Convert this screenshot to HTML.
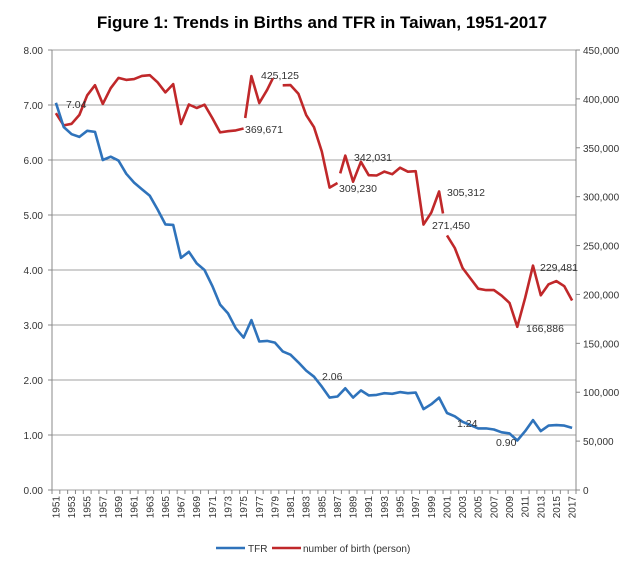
<!DOCTYPE html>
<html><head><meta charset="utf-8"><style>
body{margin:0;background:#fff;}
svg{display:block;font-family:"Liberation Sans",sans-serif;}
</style></head><body>
<svg id="c" width="640" height="565" viewBox="0 0 640 565" xmlns="http://www.w3.org/2000/svg"></svg>
<script>
const s=document.getElementById('c');let h='';
h+='<text x="322" y="28" text-anchor="middle" font-size="17" font-weight="bold" fill="#000">Figure 1: Trends in Births and TFR in Taiwan, 1951-2017</text>';
const L=52,R=576,T=50,B=490;
for(let i=0;i<=8;i++){const y=B-i*55;
 h+=`<line x1="${L}" x2="${R}" y1="${y}" y2="${y}" stroke="#a0a0a0" stroke-width="1"/>`;
 h+=`<text x="43" y="${y+4}" text-anchor="end" font-size="10" fill="#333">${i.toFixed(2)}</text>`;
 h+=`<line x1="${L-4}" x2="${L}" y1="${y}" y2="${y}" stroke="#888"/>`;}
for(let i=0;i<=9;i++){const y=B-i*440/9;const v=i*50000;
 h+=`<text x="583" y="${y+4}" font-size="10" fill="#333">${v==0?'0':v.toLocaleString('en-US')}</text>`;
 h+=`<line x1="${R}" x2="${R+4}" y1="${y}" y2="${y}" stroke="#888"/>`;}
h+=`<line x1="${L}" x2="${L}" y1="${T}" y2="${B}" stroke="#888"/><line x1="${R}" x2="${R}" y1="${T}" y2="${B}" stroke="#888"/>`;
const w=(R-L)/67,X=i=>L+w*(i+0.5);
for(let i=0;i<=67;i++){const x=L+w*i;h+=`<line x1="${x}" x2="${x}" y1="${B}" y2="${B+4}" stroke="#888"/>`;}
for(let i=0;i<67;i+=2){const x=X(i)+3.5;h+=`<text transform="translate(${x},${B+6}) rotate(-90)" text-anchor="end" font-size="10" fill="#333">${1951+i}</text>`;}
const tfr=[7.04,6.60,6.47,6.42,6.53,6.51,6.00,6.06,5.99,5.75,5.59,5.47,5.35,5.10,4.83,4.82,4.22,4.33,4.12,4.00,3.71,3.37,3.21,2.94,2.77,3.09,2.70,2.71,2.68,2.52,2.46,2.32,2.17,2.06,1.88,1.68,1.70,1.85,1.68,1.81,1.72,1.73,1.76,1.75,1.78,1.76,1.77,1.47,1.56,1.68,1.40,1.34,1.24,1.18,1.12,1.12,1.10,1.05,1.03,0.90,1.07,1.27,1.07,1.17,1.18,1.17,1.13];
const bir=[385383,372905,374536,383574,403683,414036,394870,410885,421458,419442,420254,423469,424250,416926,406604,415108,374282,394260,390728,394015,380424,365749,366942,367823,369671,423356,395796,409203,425125,413881,414069,405263,383439,371008,346208,309230,314024,342031,315299,335618,321932,321632,325613,322938,329581,325545,326002,271450,283661,305312,260354,247530,227070,216419,205854,204459,204414,198733,191310,166886,196627,229481,199113,210383,213598,208440,193844];
const p1=tfr.map((v,i)=>`${X(i).toFixed(1)},${(B-v*55).toFixed(1)}`).join(' ');
const bp=bir.map((v,i)=>[X(i),B-v/450000*440]);
const hide={24:[0,0.2],27:[0.75,1],28:[0,1],36:[0,0.35],49:[0.5,1]};
let d='';let pen=false;
for(let i=0;i<bp.length;i++){
 const hd=hide[i];
 if(!pen){d+=`M${bp[i][0].toFixed(1)},${bp[i][1].toFixed(1)}`;pen=true;}
 else d+=`L${bp[i][0].toFixed(1)},${bp[i][1].toFixed(1)}`;
 if(i==bp.length-1)break;
 if(hd){const a=bp[i],b=bp[i+1];const P=f=>[a[0]+(b[0]-a[0])*f,a[1]+(b[1]-a[1])*f];
  if(hd[0]>0){const q=P(hd[0]);d+=`L${q[0].toFixed(1)},${q[1].toFixed(1)}`;}
  if(hd[1]<1){const q=P(hd[1]);d+=`M${q[0].toFixed(1)},${q[1].toFixed(1)}`;}
  else pen=false;
 }
}
h+=`<path d="${d}" fill="none" stroke="#c0282a" stroke-width="2.6" stroke-linejoin="round"/>`;
h+=`<polyline points="${p1}" fill="none" stroke="#2f73bb" stroke-width="2.6" stroke-linejoin="round"/>`;
const labs=[["7.04",66,108],["425,125",261,79],["369,671",245,133],["342,031",354,161],["309,230",339,192],["305,312",447,196],["271,450",432,229],["229,481",540,271],["166,886",526,332],["2.06",322,380],["1.24",457,427],["0.90",496,446]];
for(const [t,x,y] of labs){h+=`<text x="${x}" y="${y}" font-size="10.5" fill="#333">${t}</text>`;}
h+=`<line x1="216" x2="245" y1="548" y2="548" stroke="#2f73bb" stroke-width="2.6"/><text x="248" y="552" font-size="10" fill="#333">TFR</text>`;
h+=`<line x1="272" x2="301" y1="548" y2="548" stroke="#c0282a" stroke-width="2.6"/><text x="303" y="552" font-size="10" fill="#333">number of birth (person)</text>`;
s.innerHTML=h;
</script>
</body></html>
